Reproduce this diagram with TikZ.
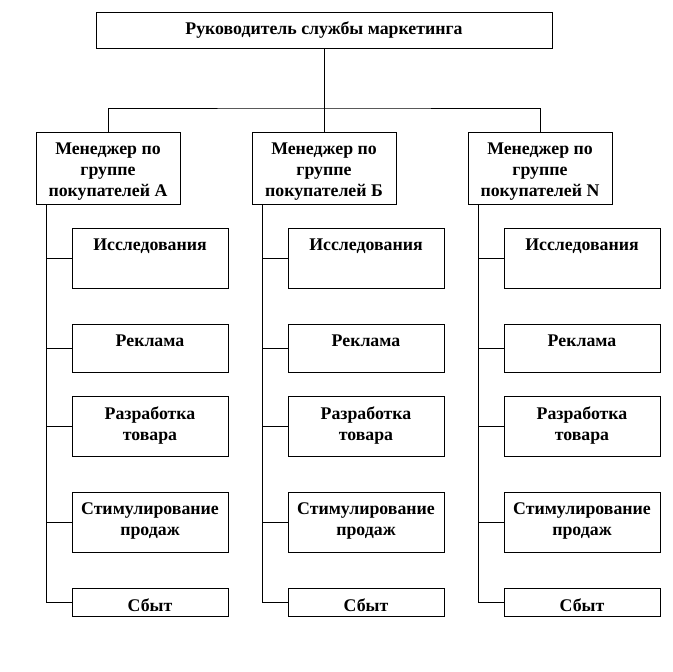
\documentclass[tikz,border=0pt]{standalone}
\usepackage{fontspec}
\setmainfont{Liberation Serif}
\usetikzlibrary{positioning,calc}
\newcommand{\boxtext}[3]{\parbox[c][#2][t]{#1}{\centering\vspace*{10pt}#3\par}}

\begin{document}
\begin{tikzpicture}[x=1pt,y=-1pt]
	\tikzset{box/.style={draw,line width=0.8pt,rectangle,inner sep=0pt,font=\fontsize{17.8}{21}\selectfont\bfseries},
		head/.style={box,minimum width=456pt,minimum height=36pt},
		manager/.style={box,anchor=north},
		subbox/.style={box,anchor=north},
		link/.style={line width=0.8pt}}
	\useasboundingbox (0,0) rectangle (672,672);
	% top level
	\node[head] (head) at (324,30) {Руководитель службы маркетинга};
	\coordinate (bus) at (324,108);
	% columns
	\foreach \col/\x/\lab in {A/0/А,B/216/Б,N/432/N}{
		\node[manager] (m\col) at (108+\x,132) {\boxtext{144pt}{72pt}{Менеджер по\\группе\\покупателей \lab}};
		\coordinate (sp\col) at ($(m\col.south west)+(11,0)$);
		\foreach \i/\top/\h/\txt in {1/228/60/Исследования,2/324/48/Реклама,3/396/60/{Разработка\\товара},4/492/60/{Стимулирование\\продаж},5/588/28/Сбыт}
			\node[subbox] (\col\i) at (150+\x,\top) {\boxtext{156pt}{\h pt}{\txt}};
		\draw[link] (sp\col) |- (\col5.west);
		\foreach \i in {1,...,4}
			\draw[link] (\col\i.west) -- (\col\i.west -| sp\col);
	}
	% connectors
	\draw[link] (head.south) -- (bus);
	\draw[link] (mA.north) |- (bus) -| (mN.north);
	\draw[link] (bus) -- (mB.north);
\end{tikzpicture}
\end{document}
